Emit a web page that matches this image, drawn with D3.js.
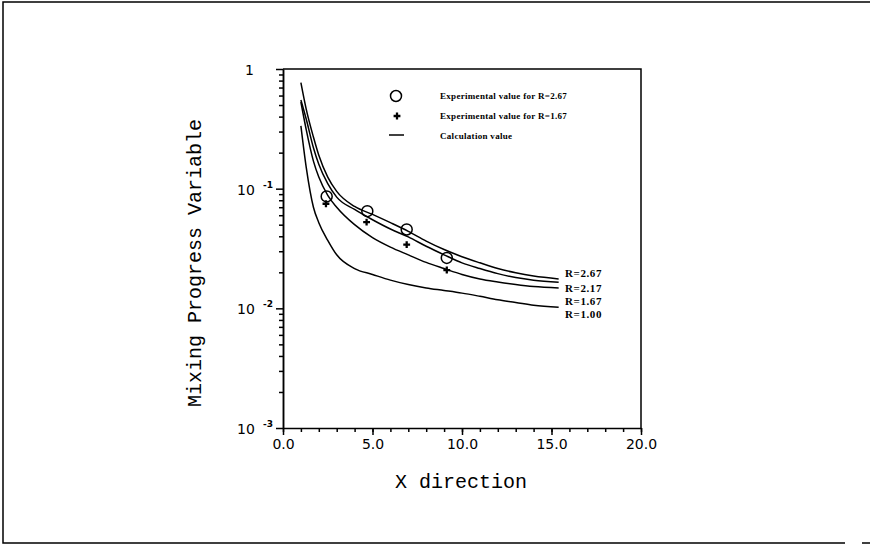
<!DOCTYPE html>
<html>
<head>
<meta charset="utf-8">
<style>
    body { margin: 0; background: #fff; }
    .axis path, .axis line { stroke: #000; stroke-width: 1.5px; }
    .axis text { font-family: "DejaVu Sans", sans-serif; font-size: 14px; fill: #000; }
    .curve { fill: none; stroke: #000; stroke-width: 1.5px; }
    .title { font-family: "Courier New", "Liberation Mono", monospace; font-size: 20px; fill: #000; }
    .small { font-family: "Liberation Serif", serif; font-weight: bold; fill: #000; }
</style>
<script src="https://d3js.org/d3.v7.min.js"></script>
</head>
<body>
<script>
// calculated curves, x position along X direction
let curveX = [1.0, 1.3, 1.7, 2.0, 2.5, 3.0, 4.0, 5.0, 6.0, 7.0, 8.0, 9.0, 10.0, 11.0, 12.0, 13.0, 14.0, 15.4];
let r267 = [0.77, 0.46, 0.27, 0.19, 0.125, 0.095, 0.071, 0.061, 0.052, 0.044, 0.0365, 0.031, 0.027, 0.024, 0.0215, 0.0198, 0.0186, 0.0176];
let r217 = [0.55, 0.38, 0.22, 0.16, 0.11, 0.085, 0.067, 0.055, 0.046, 0.0395, 0.033, 0.028, 0.024, 0.0215, 0.0195, 0.0181, 0.0172, 0.0165];
let r167 = [0.53, 0.31, 0.17, 0.125, 0.088, 0.07, 0.05, 0.039, 0.0325, 0.028, 0.0242, 0.0215, 0.0192, 0.0176, 0.0166, 0.0158, 0.0152, 0.0148];
let r100 = [0.335, 0.15, 0.07, 0.052, 0.037, 0.028, 0.0215, 0.0192, 0.0172, 0.0158, 0.0148, 0.0141, 0.0134, 0.0126, 0.0118, 0.0112, 0.0106, 0.0102];
let curveNames = ["R=2.67", "R=2.17", "R=1.67", "R=1.00"];

// experimental points
let expX267 = [2.44, 4.71, 6.91, 9.15];
let expY267 = [0.0861, 0.0649, 0.0456, 0.0264];
let expX167 = [2.40, 4.67, 6.91, 9.15];
let expY167 = [0.0748, 0.0525, 0.0341, 0.0209];

let xTicks = [0, 5, 10, 15, 20];
let yTicks = [0.001, 0.01, 0.1, 1];
let yTickLabels = [["10", "-3"], ["10", "-2"], ["10", "-1"], ["1", ""]];
let legendLabels = ["Experimental value for R=2.67", "Experimental value for R=1.67", "Calculation value"];

let W = 876, H = 545;
let svg = d3.select("body").append("svg").attr("width", W).attr("height", H);

// page frame from the scanned sheet
svg.append("path")
    .attr("d", "M870,2 L3,2 L3,543 L845,543 M862,543 L870,543")
    .attr("fill", "none").attr("stroke", "#000").attr("stroke-width", 1.5);

let x = d3.scaleLinear().domain([0, 20]).range([283, 641]);
let y = d3.scaleLog().domain([0.001, 1]).range([428, 69]);

// plot frame top + right
svg.append("path")
    .attr("d", `M${x(0)},${y(1)} L${x(20)},${y(1)} L${x(20)},${y(0.001)}`)
    .attr("fill", "none").attr("stroke", "#000").attr("stroke-width", 1.5);

// x axis
svg.append("g").attr("class", "axis")
    .attr("transform", `translate(0,${y(0.001)})`)
    .call(d3.axisBottom(x).tickValues(d3.range(0, 21, 1)).tickFormat("").tickSize(4).tickSizeOuter(0));
let xa = svg.append("g").attr("class", "axis")
    .attr("transform", `translate(0,${y(0.001)})`)
    .call(d3.axisBottom(x).tickValues(xTicks).tickFormat(d3.format(".1f")).tickSize(7).tickSizeOuter(0).tickPadding(4));
xa.select(".domain").remove();

// y axis
let minors = [];
for (let d = 0.001; d < 1; d *= 10) {
    for (let k = 2; k <= 9; k++) minors.push(+(d * k).toPrecision(3));
}
svg.append("g").attr("class", "axis")
    .attr("transform", `translate(${x(0)},0)`)
    .call(d3.axisLeft(y).tickValues(minors).tickFormat("").tickSize(4).tickSizeOuter(0));
svg.append("g").attr("class", "axis")
    .attr("transform", `translate(${x(0)},0)`)
    .call(d3.axisLeft(y).tickValues(yTicks).tickFormat("").tickSize(7).tickSizeOuter(0));

yTicks.forEach((v, i) => {
    let lab = yTickLabels[i];
    svg.append("text")
        .attr("x", lab[1] ? x(0) - 46 : x(0) - 38)
        .attr("y", y(v) + 6)
        .attr("font-family", "DejaVu Sans, sans-serif")
        .attr("font-size", 14)
        .text(lab[0]);
    if (lab[1]) {
        svg.append("text")
            .attr("x", x(0) - 20)
            .attr("y", y(v) - 1)
            .attr("font-family", "DejaVu Sans, sans-serif")
            .attr("font-size", 9)
            .attr("font-weight", "bold")
            .text(lab[1]);
    }
});

// titles
svg.append("text").attr("class", "title")
    .attr("text-anchor", "middle")
    .attr("x", (x(0) + x(20)) / 2 - 1)
    .attr("y", 488)
    .text("X direction");
svg.append("text").attr("class", "title")
    .attr("text-anchor", "middle")
    .attr("font-size", 21)
    .attr("transform", "translate(201,263) rotate(-90)")
    .text("Mixing Progress Variable");

// curves
let line = d3.line()
    .x(d => x(d[0]))
    .y(d => y(d[1]))
    .curve(d3.curveMonotoneX);

let series = [r267, r217, r167, r100];
series.forEach(s => {
    let pts = curveX.map((cx, j) => [cx, s[j]]);
    svg.append("path").attr("class", "curve").attr("d", line(pts));
});

let labelY = [273, 288, 301, 314];
curveNames.forEach((n, i) => {
    svg.append("text").attr("class", "small")
        .attr("x", 565)
        .attr("y", labelY[i] + 4)
        .attr("font-size", 11)
        .attr("letter-spacing", 0.6)
        .text(n);
});

// experimental markers
svg.selectAll("circle.exp")
    .data(expX267.map((v, i) => [v, expY267[i]]))
    .join("circle")
    .attr("class", "exp")
    .attr("cx", d => x(d[0]))
    .attr("cy", d => y(d[1]))
    .attr("r", 5.5)
    .attr("fill", "none")
    .attr("stroke", "#000")
    .attr("stroke-width", 1.5);

let cross = d3.symbol().type(d3.symbolCross).size(26);
svg.selectAll("path.plus")
    .data(expX167.map((v, i) => [v, expY167[i]]))
    .join("path")
    .attr("class", "plus")
    .attr("transform", d => `translate(${x(d[0])},${y(d[1])})`)
    .attr("d", cross)
    .attr("fill", "#000");

// legend
svg.append("circle").attr("cx", 396).attr("cy", 96).attr("r", 5.5)
    .attr("fill", "none").attr("stroke", "#000").attr("stroke-width", 1.5);
svg.append("path").attr("transform", "translate(397,116)").attr("d", cross).attr("fill", "#000");
svg.append("line").attr("x1", 389).attr("x2", 404).attr("y1", 135).attr("y2", 135)
    .attr("stroke", "#000").attr("stroke-width", 1.5);
legendLabels.forEach((t, i) => {
    svg.append("text").attr("class", "small")
        .attr("x", 440)
        .attr("y", 99 + i * 20)
        .attr("font-size", 9)
        .attr("letter-spacing", 0.3)
        .text(t);
});
</script>
</body>
</html>
